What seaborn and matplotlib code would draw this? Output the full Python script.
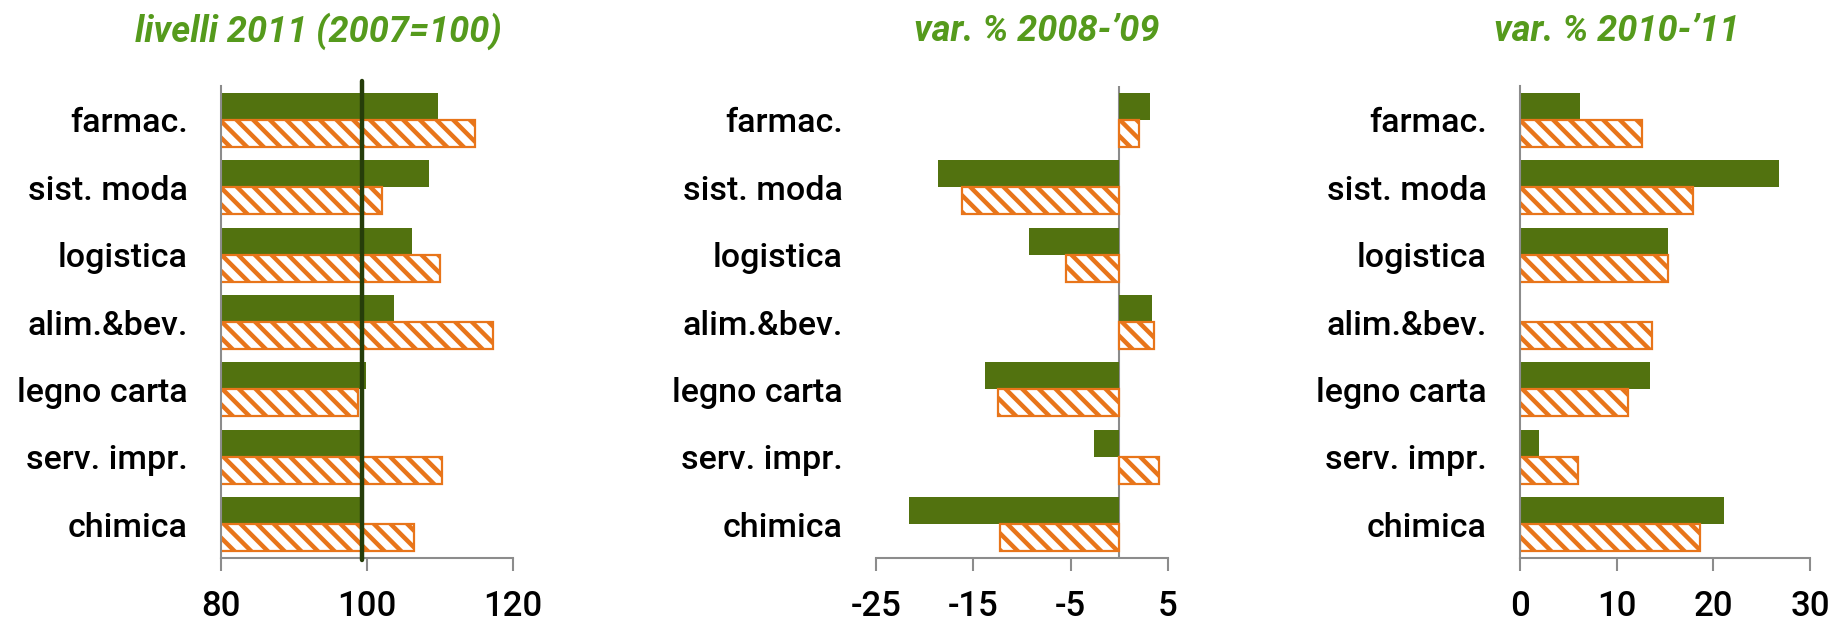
import numpy as np
import pandas as pd
import matplotlib
matplotlib.use("Agg")
import matplotlib.pyplot as plt
import seaborn as sns

sns.set_style("white")
plt.rcParams['font.family'] = ['Roboto', 'DejaVu Sans']
plt.rcParams['font.weight'] = 'medium'
plt.rcParams['axes.unicode_minus'] = False
plt.rcParams['hatch.linewidth'] = 3.2

# dati
settori = ["farmac.", "sist. moda", "logistica", "alim.&bev.",
           "legno carta", "serv. impr.", "chimica"]
serie = ["serie 1", "serie 2"]

livelli_s1 = [109.7, 108.5, 106.2, 103.7, 99.9, 99.4, 99.3]
livelli_s2 = [114.8, 102.0, 110.0, 117.3, 98.8, 110.3, 106.5]

var0809_s1 = [3.2, -18.6, -9.3, 3.4, -13.8, -2.6, -21.6]
var0809_s2 = [2.0, -16.2, -5.5, 3.6, -12.5, 4.1, -12.3]

var1011_s1 = [6.2, 26.8, 15.3, 0.0, 13.4, 2.0, 21.1]
var1011_s2 = [12.6, 17.9, 15.3, 13.6, 11.2, 6.0, 18.6]

titoli = ["livelli 2011 (2007=100)", "var. % 2008-\u201909", "var. % 2010-\u201911"]
xlims = [(80, 120), (-25, 5), (0, 30)]
xticks = [[80, 100, 120], [-25, -15, -5, 5], [0, 10, 20, 30]]
linea_rif = 99.3

verde = "#52720F"
arancio = "#E8751A"
verde_titolo = "#559A1C"
grigio = "#8C8C8C"

fig = plt.figure(figsize=(18.31, 6.23), dpi=100)
lefts = [0.1207, 0.4784, 0.8302]
widths = [0.1595, 0.1595, 0.1584]
title_x = [0.174, 0.566, 0.883]

dati = [(livelli_s1, livelli_s2), (var0809_s1, var0809_s2), (var1011_s1, var1011_s2)]

for i, (s1, s2) in enumerate(dati):
    ax = fig.add_axes([lefts[i], 0.1043, widths[i], 0.7576])
    df = pd.DataFrame({
        "settore": settori * 2,
        "serie": [serie[0]] * 7 + [serie[1]] * 7,
        "valore": list(s1) + list(s2),
    })
    sns.barplot(data=df, y="settore", x="valore", hue="serie", orient="h",
                palette=[verde, arancio], width=0.8, ax=ax, legend=False,
                saturation=1)
    for p in ax.containers[1]:
        p.set_facecolor("white")
        p.set_edgecolor(arancio)
        p.set_hatch("\\\\")
        p.set_linewidth(1.6)
    for p in ax.containers[0]:
        p.set_edgecolor("none")

    ax.set_xlim(*xlims[i])
    ax.set_ylim(6.5, -0.5)
    ax.set_xticks(xticks[i])
    ax.set_xlabel("")
    ax.set_ylabel("")
    for s in ["top", "right"]:
        ax.spines[s].set_visible(False)
    ax.spines["bottom"].set_color(grigio)
    ax.spines["bottom"].set_linewidth(1.5)
    ax.spines["left"].set_color(grigio)
    ax.spines["left"].set_linewidth(1.5)
    if i == 1:
        ax.spines["left"].set_visible(False)
        ax.axvline(0, color=grigio, lw=1.5, zorder=0.5)
    ax.tick_params(axis="x", which="both", bottom=True, length=9, width=1.5,
                   color=grigio, pad=14, labelsize=25, labelcolor="black")
    ax.tick_params(axis="y", length=0, pad=24, labelsize=24.5, labelcolor="black")
    if i == 0:
        ax.axvline(linea_rif, ymin=-0.005, ymax=1.01, color="#263D0A", lw=3.2,
                   clip_on=False, zorder=5)
    fig.text(title_x[i], 0.95, titoli[i], color=verde_titolo, fontsize=26,
             fontstyle="italic", fontweight="bold", ha="center", va="center")

fig.savefig("out.png", dpi=100)
